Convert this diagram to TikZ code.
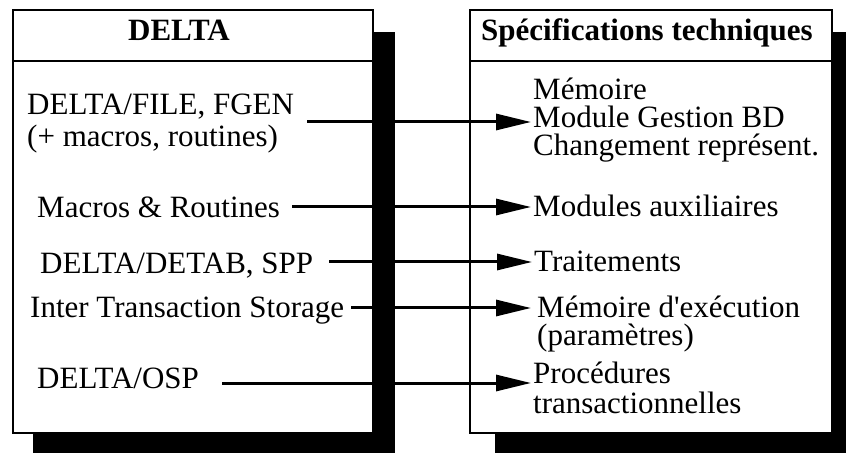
\documentclass[tikz,border=0pt]{standalone}
\usepackage{fontspec}
\setmainfont{Liberation Serif}
\usetikzlibrary{arrows.meta}
\begin{document}
\begin{tikzpicture}[x=1pt,y=-1pt,
  txt/.style={inner sep=0pt, anchor=base west, font=\fontsize{31}{34}\selectfont},
  ttl/.style={inner sep=0pt, anchor=base, font=\fontsize{31}{34}\selectfont\bfseries},
  boxline/.style={draw=black, line width=2.2pt, fill=white, inner sep=0pt, anchor=north west},
  shadowbox/.style={fill=black},
  sep/.style={line width=2.2pt},
  arr/.style={line width=3pt, -{Triangle[length=35pt,width=16pt]}, shorten >=2pt}]
\useasboundingbox (0,0) rectangle (846,454);
% shadows
\fill[shadowbox] (33,32) rectangle (395,453);
\fill[shadowbox] (495,32) rectangle (846,453);
% boxes
\node[boxline, minimum width=360pt, minimum height=423pt] (lbox) at (12,9) {};
\node[boxline, minimum width=362pt, minimum height=423pt] (rbox) at (469,9) {};
\draw[sep] (lbox.west |- 0,61) -- (lbox.east |- 0,61);
\draw[sep] (rbox.west |- 0,61) -- (rbox.east |- 0,61);
% titles
\node[ttl] (tl) at (179,41) {DELTA};
\node[ttl] (tr) at (647,41) {Spécifications techniques};
% left texts
\node[txt] (l1a) at (27,115) {DELTA/FILE, FGEN};
\node[txt] (l1b) at (27,147) {(+ macros, routines)};
\node[txt] (l2) at (37,218) {Macros \& Routines};
\node[txt] (l3) at (40,274) {DELTA/DETAB, SPP};
\node[txt] (l4) at (30,318) {Inter Transaction Storage};
\node[txt] (l5) at (37,388) {DELTA/OSP};
% right texts
\node[txt] (r1a) at (533,100) {Mémoire};
\node[txt] (r1b) at (533,128) {Module Gestion BD};
\node[txt] (r1c) at (533,156) {Changement représent.};
\node[txt] (r2) at (533,217) {Modules auxiliaires};
\node[txt] (r3) at (534,272) {Traitements};
\node[txt] (r4a) at (537,317) {Mémoire d\textquotesingle exécution};
\node[txt] (r4b) at (537,345) {(paramètres)};
\node[txt] (r5a) at (533,383) {Procédures};
\node[txt] (r5b) at (533,413) {transactionnelles};
% connector starts
\coordinate (s1) at (307,122);
\coordinate (s2) at (292,207);
\coordinate (s3) at (329,262);
\coordinate (s4) at (351,308);
\coordinate (s5) at (222,383);
\draw[arr] (s1) -- (s1 -| r1b.west);
\draw[arr] (s2) -- (s2 -| r2.west);
\draw[arr] (s3) -- (s3 -| r3.west);
\draw[arr] (s4) -- (s4 -| r1b.west);
\draw[arr] (s5) -- (s5 -| r5a.west);
\end{tikzpicture}
\end{document}
